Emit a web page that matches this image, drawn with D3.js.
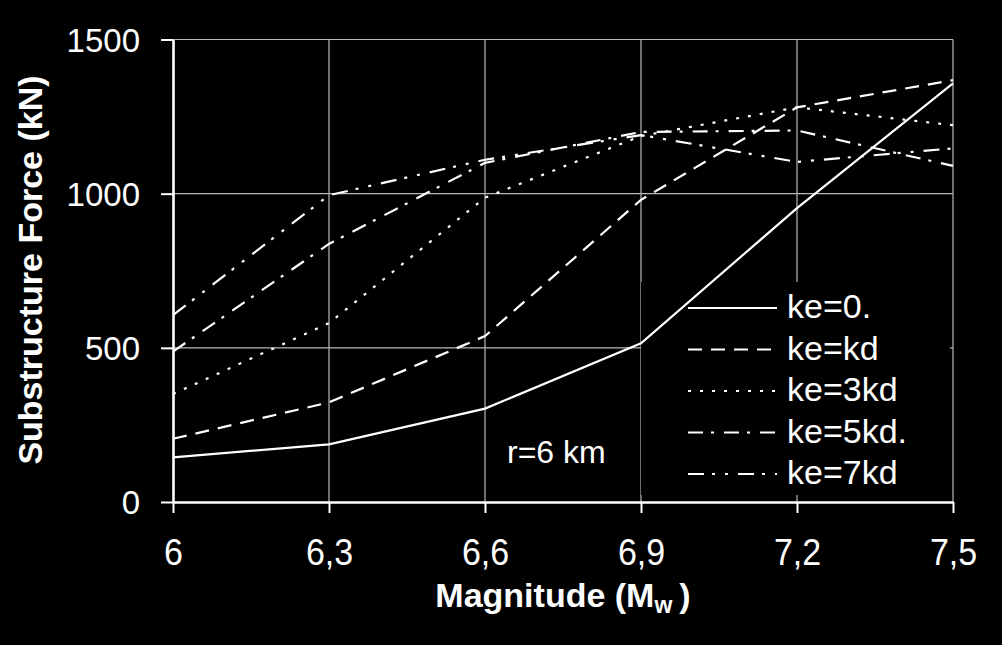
<!DOCTYPE html>
<html>
<head>
<meta charset="utf-8">
<script src="https://cdn.jsdelivr.net/npm/d3@7"></script>
<style>
  html, body { margin: 0; padding: 0; background: #000; }
  svg { display: block; }
  text { font-family: "Liberation Sans", Arial, sans-serif; fill: #fff; }
</style>
</head>
<body>
<svg id="chart" width="1002" height="645"></svg>
<script>
// ---- Data ----
const magnitudes = [6, 6.3, 6.6, 6.9, 7.2, 7.5];
const magnitudeLabels = ["6", "6,3", "6,6", "6,9", "7,2", "7,5"];
const forceTicks = [0, 500, 1000, 1500];
const forceLabels = ["0", "500", "1000", "1500"];

const seriesNames = ["ke=0.", "ke=kd", "ke=3kd", "ke=5kd.", "ke=7kd"];
const ke0  = [145, 187, 303, 515, 953, 1358];
const keKd = [205, 323, 538, 980, 1280, 1368];
const ke3  = [350, 580, 987, 1187, 1280, 1222];
const ke5  = [488, 837, 1100, 1200, 1205, 1090];
const ke7  = [606, 995, 1110, 1190, 1103, 1147];
const seriesValues = [ke0, keKd, ke3, ke5, ke7];
const dashes = [null, "14,9", "3,9", "15,8,3,10", "16,8,3,10,3,10"];

// ---- Layout ----
const svg = d3.select("#chart");
svg.append("rect").attr("width", 1002).attr("height", 645).attr("fill", "#000");

const x = d3.scaleLinear().domain([6, 7.5]).range([173, 953]);
const y = d3.scaleLinear().domain([0, 1500]).range([502, 39.5]);

// Gridlines
const grid = svg.append("g");
grid.selectAll("line.v").data(magnitudes.slice(1)).enter().append("line")
  .attr("x1", d => x(d)).attr("x2", d => x(d))
  .attr("y1", y(1500)).attr("y2", y(0))
  .attr("stroke", "#b8b8b8").attr("stroke-width", 1.2);
grid.selectAll("line.h").data(forceTicks.slice(1)).enter().append("line")
  .attr("x1", x(6)).attr("x2", x(7.5))
  .attr("y1", d => y(d)).attr("y2", d => y(d))
  .attr("stroke", "#b8b8b8").attr("stroke-width", 1.2);

// Legend background (hides gridlines behind it)
svg.append("rect").attr("x", 641).attr("y", 282).attr("width", 309).attr("height", 213).attr("fill", "#000");

// Axes
const xAxis = d3.axisBottom(x)
  .tickValues(magnitudes)
  .tickFormat((d, i) => magnitudeLabels[i])
  .tickSize(11).tickSizeOuter(0);
const gx = svg.append("g").attr("transform", `translate(0,${y(0)})`).call(xAxis);
gx.select(".domain").attr("stroke", "#fff").attr("stroke-width", 2.6);
gx.selectAll(".tick line").attr("stroke", "#fff").attr("stroke-width", 2);
gx.selectAll(".tick text")
  .attr("y", 0).attr("dy", 0)
  .attr("transform", "translate(0,63) scale(1,1.11)")
  .style("font-size", "34px").style("font-family", "'Liberation Sans', Arial, sans-serif")
  .attr("fill", "#fff");

const yAxis = d3.axisLeft(y)
  .tickValues(forceTicks)
  .tickFormat((d, i) => forceLabels[i])
  .tickSize(12).tickPadding(21).tickSizeOuter(0);
const gy = svg.append("g").attr("transform", `translate(${x(6)},0)`).call(yAxis);
gy.select(".domain").attr("stroke", "#fff").attr("stroke-width", 2.6);
gy.selectAll(".tick line").attr("stroke", "#fff").attr("stroke-width", 2);
gy.selectAll(".tick text")
  .attr("dy", "0.36em")
  .style("font-size", "33px").style("font-family", "'Liberation Sans', Arial, sans-serif")
  .attr("fill", "#fff");

// Lines
const line = d3.line().x((d, i) => x(magnitudes[i])).y(d => y(d));
seriesValues.forEach((vals, k) => {
  svg.append("path").datum(vals)
    .attr("d", line)
    .attr("fill", "none")
    .attr("stroke", "#fff")
    .attr("stroke-width", 2.2)
    .attr("stroke-dasharray", dashes[k]);
});

// Legend
const legendBaselines = [318, 359.5, 401, 442.5, 484];
const lg = svg.append("g");
seriesNames.forEach((name, k) => {
  const b = legendBaselines[k];
  lg.append("line")
    .attr("x1", 688).attr("x2", 777)
    .attr("y1", b - 10).attr("y2", b - 10)
    .attr("stroke", "#fff").attr("stroke-width", 2.2)
    .attr("stroke-dasharray", dashes[k]);
  lg.append("text").attr("x", 787).attr("y", b)
    .style("font-size", "34px").text(name);
});

// Annotation
svg.append("text").attr("x", 507).attr("y", 463)
  .style("font-size", "32px").text("r=6 km");

// Axis titles
const xt = svg.append("text").attr("x", 563).attr("y", 607)
  .attr("text-anchor", "middle")
  .style("font-size", "34px").style("font-weight", "bold");
xt.append("tspan").text("Magnitude (M");
xt.append("tspan").attr("dy", 6).style("font-size", "23px").text("w");
xt.append("tspan").attr("dy", -6).attr("dx", 7).text(")");

svg.append("text")
  .attr("transform", "translate(42,270) rotate(-90)")
  .attr("text-anchor", "middle")
  .style("font-size", "34px").style("font-weight", "bold")
  .text("Substructure Force (kN)");
</script>
</body>
</html>
